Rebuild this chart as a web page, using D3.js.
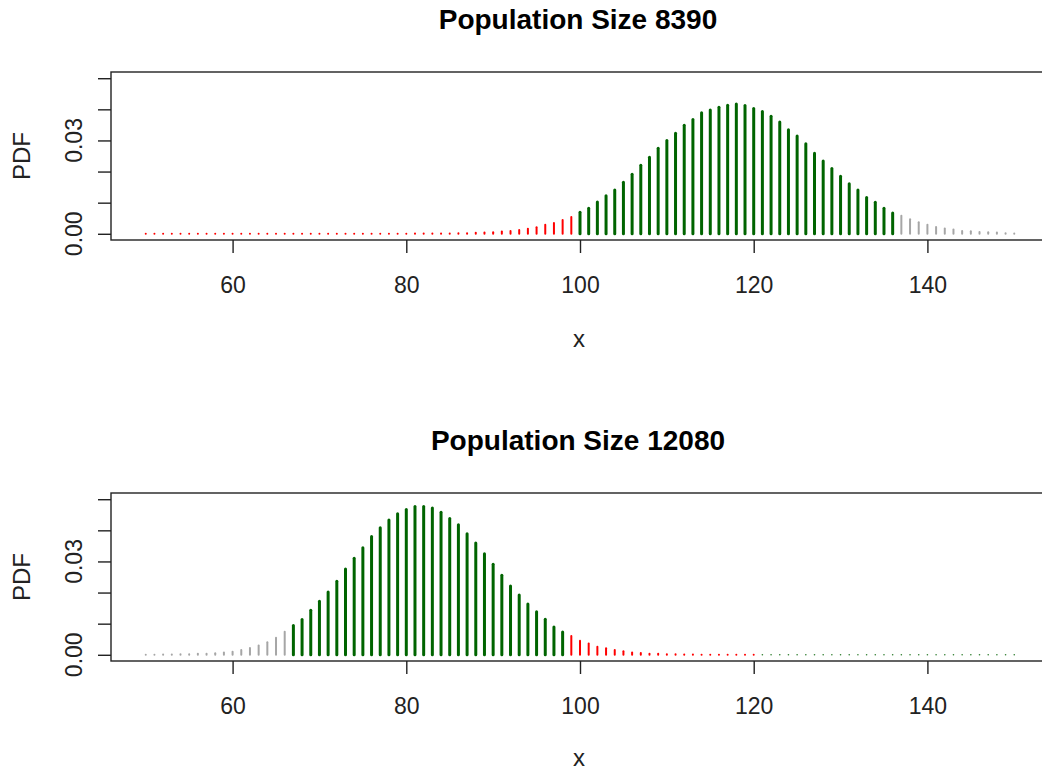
<!DOCTYPE html>
<html>
<head>
<meta charset="utf-8">
<script src="https://cdn.jsdelivr.net/npm/d3@7"></script>
<style>
  body { margin: 0; background: #fff; }
  svg { display: block; font-family: "Liberation Sans", Arial, sans-serif; }
</style>
</head>
<body>
<svg id="chart"></svg>
<script>
const width = 1042;
const height = 771;

// x values 50..150
const xs = d3.range(50, 151);

// PDF values (x = 50..150)
const pdfTop = [
  0, 0, 0, 0, 0, 0, 0, 0, 0, 0,                                   // 50-59
  0, 0, 0, 0, 0, 0, 0, 0, 0, 0,                                   // 60-69
  0, 0, 0, 0, 0, 0, 0, 0, 0, 0,                                   // 70-79
  0, 0.0001, 0.0001, 0.0001, 0.0001, 0.0001, 0.0002, 0.0002, 0.0003, 0.0004, // 80-89
  0.0005, 0.0007, 0.0009, 0.0012, 0.0016, 0.0021, 0.0029, 0.0035, 0.0044, 0.0054, // 90-99
  0.0069, 0.0082, 0.0102, 0.0122, 0.0141, 0.0166, 0.0191, 0.0220, 0.0246, 0.0275, // 100-109
  0.0300, 0.0323, 0.0349, 0.0367, 0.0389, 0.0398, 0.0407, 0.0413, 0.0417, 0.0412, // 110-119
  0.0403, 0.0393, 0.0378, 0.0359, 0.0334, 0.0314, 0.0289, 0.0259, 0.0234, 0.0210, // 120-129
  0.0185, 0.0161, 0.0141, 0.0117, 0.0101, 0.0082, 0.0067, 0.0058, 0.0047, 0.0037, // 130-139
  0.0029, 0.0022, 0.0017, 0.0014, 0.0009, 0.0008, 0.0006, 0.0005, 0.0004, 0.0002, // 140-149
  0.0001                                                          // 150
];

// PDF values (x = 50..150)
const pdfBottom = [
  0, 0, 0.0001, 0.0001, 0.0002, 0.0002, 0.0003, 0.0003, 0.0005, 0.0007, // 50-59
  0.0010, 0.0015, 0.0022, 0.0030, 0.0040, 0.0055, 0.0074, 0.0094, 0.0113, 0.0143, // 60-69
  0.0172, 0.0202, 0.0236, 0.0276, 0.0310, 0.0344, 0.0380, 0.0408, 0.0433, 0.0453, // 70-79
  0.0467, 0.0477, 0.0477, 0.0472, 0.0458, 0.0438, 0.0418, 0.0389, 0.0359, 0.0325, // 80-89
  0.0291, 0.0256, 0.0221, 0.0192, 0.0163, 0.0138, 0.0114, 0.0089, 0.0073, 0.0060, // 90-99
  0.0045, 0.0036, 0.0026, 0.0021, 0.0015, 0.0011, 0.0007, 0.0006, 0.0003, 0.0003, // 100-109
  0.0002, 0.0002, 0.0001, 0.0001, 0, 0, 0, 0, 0, 0,               // 110-119
  0, 0, 0, 0, 0, 0, 0, 0, 0, 0,                                   // 120-129
  0, 0, 0, 0, 0, 0, 0, 0, 0, 0,                                   // 130-139
  0, 0, 0, 0, 0, 0, 0, 0, 0, 0,                                   // 140-149
  0                                                               // 150
];

// which group each x falls in: [from, to, group]
const groupsTop = [[50, 99, "reject"], [100, 136, "accept"], [137, 150, "tail"]];
const groupsBottom = [[50, 66, "tail"], [67, 98, "accept"], [99, 120, "reject"], [121, 150, "far"]];

const titles = ["Population Size 8390", "Population Size 12080"];
const xTicks = [60, 80, 100, 120, 140];
const yTicks = [0, 0.01, 0.02, 0.03, 0.04, 0.05];
const yLabelled = [0, 0.03];

// styles per group
const groupStyle = {
  reject: { color: "#ff0000", width: 2 },
  accept: { color: "#006400", width: 3 },
  tail: { color: "#a6a6a6", width: 2 },
  far: { color: "#2e7d2e", width: 1.6 }
};

const svg = d3.select("#chart").attr("width", width).attr("height", height);

const x = d3.scaleLinear().domain([46, 154]).range([111, 1049]);

function groupOf(groups, v) {
  return groups.find((g) => v >= g[0] && v <= g[1])[2];
}

function drawPanel(offset, title, values, groups) {
  const boxTop = 72 + offset;
  const boxBottom = 240 + offset;
  const y = d3.scaleLinear().domain([-0.002, 0.052]).range([boxBottom, boxTop]);
  const g = svg.append("g");

  const data = xs.map((v, i) => ({ x: v, p: values[i], grp: groupOf(groups, v) }));

  // vertical "h" lines
  g.selectAll("path.bar")
    .data(data)
    .join("path")
    .attr("class", "bar")
    .attr("d", (d) => `M${x(d.x)},${y(0)}L${x(d.x)},${y(d.p)}`)
    .attr("fill", "none")
    .attr("stroke", (d) => groupStyle[d.grp].color)
    .attr("stroke-width", (d) => groupStyle[d.grp].width)
    .attr("stroke-linecap", "round");

  // plot box
  g.append("rect")
    .attr("x", x(46))
    .attr("y", boxTop)
    .attr("width", x(154) - x(46))
    .attr("height", boxBottom - boxTop)
    .attr("fill", "none")
    .attr("stroke", "#222")
    .attr("stroke-width", 1.4);

  // x axis
  const ax = g.append("g")
    .attr("transform", `translate(0,${boxBottom})`)
    .call(d3.axisBottom(x).tickValues(xTicks).tickSize(13).tickPadding(24));
  ax.select(".domain").remove();
  ax.selectAll(".tick line").attr("stroke", "#222").attr("stroke-width", 1.4);
  ax.selectAll(".tick text")
    .attr("font-size", "23px")
    .attr("fill", "#222")
    .attr("font-family", "Liberation Sans, Arial, sans-serif")
    .attr("dy", null)
    .attr("y", 52.5);

  // y axis
  const ay = g.append("g")
    .attr("transform", `translate(${x(46)},0)`)
    .call(d3.axisLeft(y).tickValues(yTicks).tickSize(13).tickFormat(""));
  ay.select(".domain").remove();
  ay.selectAll(".tick line").attr("stroke", "#222").attr("stroke-width", 1.4);

  yLabelled.forEach((t) => {
    g.append("text")
      .attr("transform", `translate(82,${y(t)}) rotate(-90)`)
      .attr("text-anchor", "middle")
      .attr("font-size", "23px")
      .attr("fill", "#222")
      .text(d3.format(".2f")(t));
  });

  // axis titles
  g.append("text")
    .attr("transform", `translate(30,${(boxTop + boxBottom) / 2}) rotate(-90)`)
    .attr("text-anchor", "middle")
    .attr("font-size", "24px")
    .attr("fill", "#222")
    .text("PDF");

  g.append("text")
    .attr("x", 579)
    .attr("y", Math.min(347 + offset, 766))
    .attr("text-anchor", "middle")
    .attr("font-size", "24px")
    .attr("fill", "#222")
    .text("x");

  // title
  g.append("text")
    .attr("x", 578)
    .attr("y", 28.5 + offset)
    .attr("text-anchor", "middle")
    .attr("font-size", "28px")
    .attr("font-weight", "bold")
    .attr("fill", "#000")
    .text(title);
}

drawPanel(0, titles[0], pdfTop, groupsTop);
drawPanel(421, titles[1], pdfBottom, groupsBottom);
</script>
</body>
</html>
